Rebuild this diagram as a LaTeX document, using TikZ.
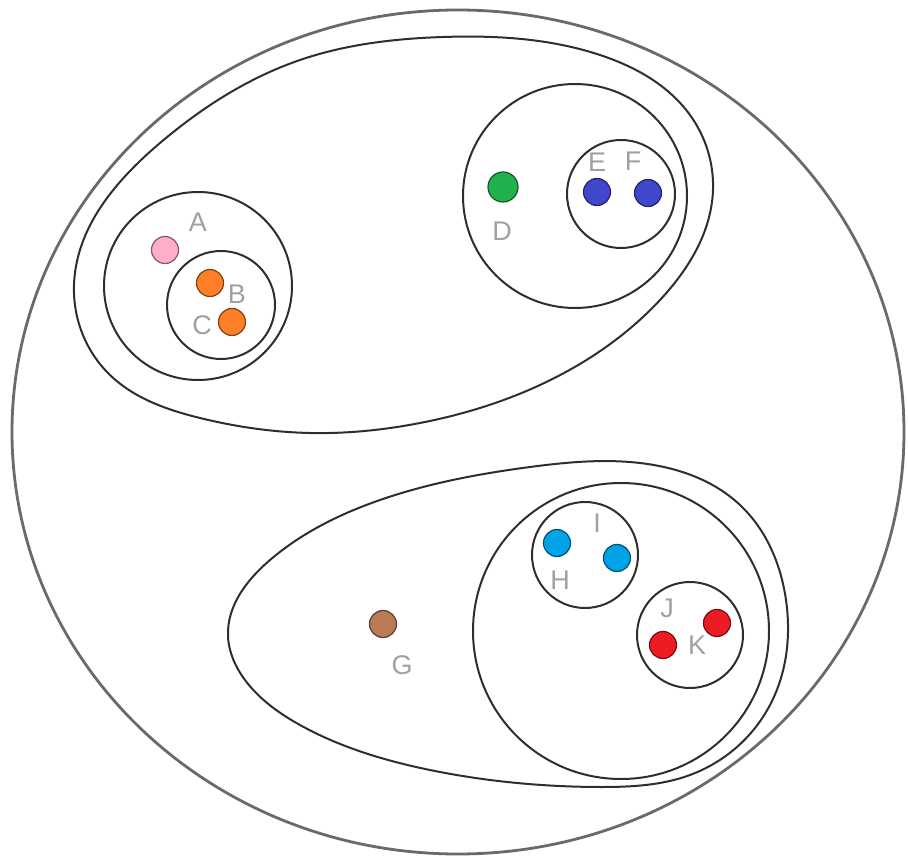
\documentclass[tikz,border=0pt]{standalone}
\usepackage{fontspec}
\usetikzlibrary{hobby}
\setmainfont{Liberation Sans}
\definecolor{cpink}{HTML}{FFAEC9}
\definecolor{corange}{HTML}{FF7F27}
\definecolor{cgreen}{HTML}{22B14C}
\definecolor{cblue}{HTML}{3F48CC}
\definecolor{ccyan}{HTML}{00A2E8}
\definecolor{cred}{HTML}{ED1C24}
\definecolor{cbrown}{HTML}{B97A57}
\definecolor{lblgray}{HTML}{A0A0A0}
\definecolor{ringgray}{HTML}{2E2E2E}
\definecolor{outergray}{HTML}{6A6A6A}
\tikzset{
  ring/.style={circle, draw=ringgray, line width=2pt, inner sep=0pt, minimum size=#1},
  blob/.style={draw=ringgray, line width=2pt},
  dot/.style={circle, fill=#1, draw=#1!50!black, line width=1.2pt, inner sep=0pt, minimum size=27pt},
  lbl/.style={text=lblgray, font=\fontsize{27}{27}\selectfont, inner sep=0pt}
}
\begin{document}
\begin{tikzpicture}[x=1pt,y=-1pt]
\useasboundingbox (0,0) rectangle (908,858);
% outer ellipse
\draw[outergray, line width=2.8pt] (458,432) ellipse [x radius=446, y radius=422];
% top blob
\draw[blob, use Hobby shortcut, closed=true]
 (74,285) .. (160,143) .. (300,60) .. (443,37) .. (600,55) .. (690,115) .. (713,190)
 .. (660,300) .. (540,385) .. (420,423) .. (310,433) .. (200,418) .. (110,375);
% bottom blob
\draw[blob, use Hobby shortcut, closed=true]
 (228,636) .. (270,560) .. (380,500) .. (530,467) .. (640,463) .. (740,505) .. (786,600)
 .. (770,705) .. (690,775) .. (600,787) .. (430,770) .. (300,725) .. (245,680);
% rings
\node[ring=188pt] (cABC) at (198,286) {};
\node[ring=108pt] (cBC) at (221,305) {};
\node[ring=224pt] (cDEF) at (575,196) {};
\node[ring=108pt] (cEF) at (621,194) {};
\node[ring=296pt] (cHIJK) at (621,631) {};
\node[ring=106pt] (cHI) at (585,555) {};
\node[ring=106pt] (cJK) at (690,635) {};
% dots
\node[dot=cpink] (A) at (165,250) {};
\node[dot=corange] (B) at (210,283) {};
\node[dot=corange] (C) at (232,322) {};
\node[dot=cgreen, minimum size=30pt] (D) at (503,187) {};
\node[dot=cblue] (E) at (597,192) {};
\node[dot=cblue] (F) at (648,193) {};
\node[dot=cbrown] (G) at (383,624) {};
\node[dot=ccyan] (H) at (557,543) {};
\node[dot=ccyan] (I) at (617,558) {};
\node[dot=cred] (J) at (663,645) {};
\node[dot=cred] (K) at (717,623) {};
% labels
\node[lbl] (lA) at (198,222) {A};
\node[lbl] (lB) at (237,294) {B};
\node[lbl] (lC) at (202,325) {C};
\node[lbl] (lD) at (502,231) {D};
\node[lbl] (lE) at (597,162) {E};
\node[lbl] (lF) at (633,161) {F};
\node[lbl] (lG) at (402,665) {G};
\node[lbl] (lH) at (560,580) {H};
\node[lbl] (lI) at (597,523) {I};
\node[lbl] (lJ) at (667,608) {J};
\node[lbl] (lK) at (697,645) {K};
\end{tikzpicture}
\end{document}
